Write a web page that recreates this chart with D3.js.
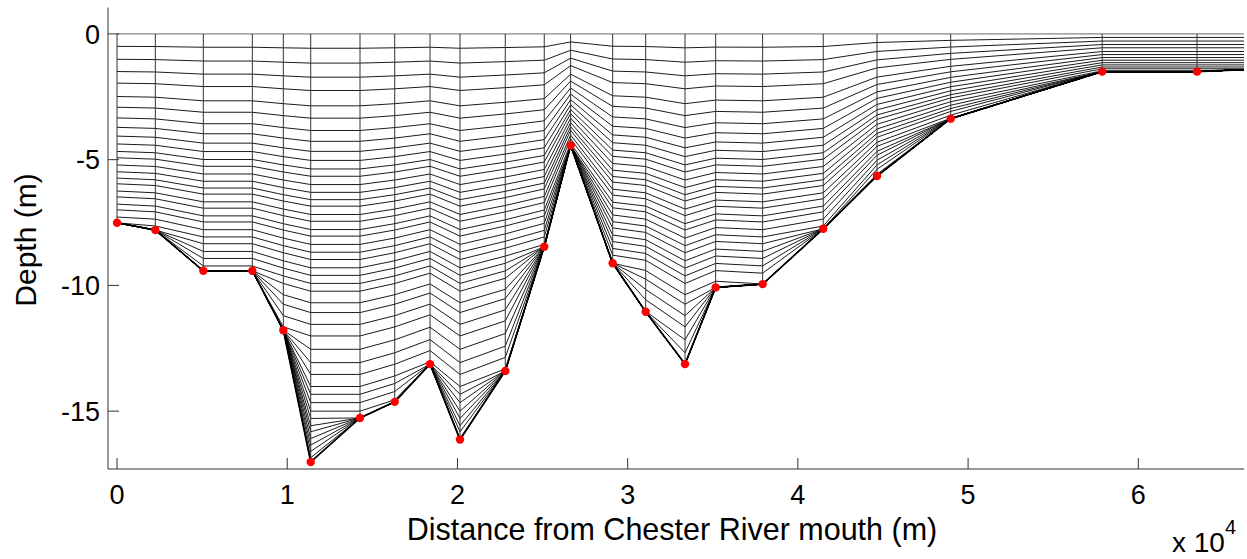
<!DOCTYPE html>
<html>
<head>
<meta charset="utf-8">
<script src="https://cdn.jsdelivr.net/npm/d3@7"></script>
<style>
  body { margin: 0; background: #fff; }
  svg { display: block; font-family: "Liberation Sans", Arial, sans-serif; }
</style>
</head>
<body>
<div id="main"></div>
<script>
// station positions along the channel (m) and bottom depth (m)
const stationX = [0, 2250, 5070, 7950, 9770, 11380, 14275, 16315, 18390, 20150, 22810, 25100,
                  26650, 29120, 31060, 33370, 35170, 37930, 41490, 44650, 48980, 57880, 63450, 66210];
const stationDepth = [7.51, 7.80, 9.42, 9.42, 11.78, 17.02, 15.27, 14.63, 13.13, 16.13, 13.40, 8.46,
                      4.44, 9.12, 11.05, 13.13, 10.08, 9.95, 7.75, 5.65, 3.37, 1.50, 1.50, 1.42];
// stretching of the level set at each station
const levelScale = [0.87, 0.88, 0.93, 0.93, 0.97, 1.0, 1.0, 0.97, 0.93, 1.0, 0.95, 0.9,
                    0.56, 0.86, 0.88, 0.97, 0.92, 0.93, 0.88, 0.6, 0.45, 0.245, 0.245, 0.245];
// measured stations (red dots); the last grid node sits on the axis edge
const measured = 23;
const levelDepth = [0, 0.57, 1.16, 1.72, 2.25, 2.86, 3.35, 3.84, 4.27, 4.67, 5.03, 5.37, 5.66, 5.99,
                    6.30, 6.59, 6.85, 7.18, 7.45, 7.78, 8.04, 8.37, 8.68, 8.97, 9.30, 9.60, 9.92,
                    10.23, 10.69, 11.08, 11.55, 12.01, 12.54, 13.07, 13.54, 14.02, 14.33, 14.66,
                    15.0, 15.29, 15.58, 15.82, 16.09, 16.35, 16.6, 16.85, 17.1];

const xTicks = [0, 10000, 20000, 30000, 40000, 50000, 60000];
const yTicks = [0, -5, -10, -15];

const ctx = {
    width: 1247,
    height: 559,
    left: 108,
    right: 1244,
    top: 7.5,
    bottom: 469,
};

let svg = d3.select("#main").append("svg")
    .attr("width", ctx.width)
    .attr("height", ctx.height);

let x = d3.scaleLinear().domain([-530, 66210]).range([ctx.left, ctx.right]);
let y = d3.scaleLinear().domain([-17.3, 1.05]).range([ctx.bottom, ctx.top]);

svg.append("defs").append("clipPath").attr("id", "plotclip")
    .append("rect")
    .attr("x", ctx.left).attr("y", ctx.top)
    .attr("width", ctx.right - ctx.left).attr("height", ctx.bottom - ctx.top);

// grid node depth for level k at station i
function nodeZ(k, i) {
    return -Math.min(levelDepth[k] * levelScale[i], stationDepth[i]);
}

let grid = svg.append("g").attr("clip-path", "url(#plotclip)");

let line = d3.line()
    .x(d => x(d[0]))
    .y(d => y(d[1]));

// horizontal grid lines, one per level
let levels = levelDepth.map((_, k) => stationX.map((sx, i) => [sx, nodeZ(k, i)]));
grid.selectAll("path.level")
    .data(levels)
    .enter().append("path")
    .attr("class", "level")
    .attr("d", line)
    .attr("fill", "none")
    .attr("stroke", (d, k) => k == 0 ? "#555" : "#000")
    .attr("stroke-width", 0.9);

// vertical lines at the measured stations
let stations = stationX.slice(0, measured);
grid.selectAll("line.vert")
    .data(stations)
    .enter().append("line")
    .attr("class", "vert")
    .attr("x1", d => x(d)).attr("x2", d => x(d))
    .attr("y1", y(0))
    .attr("y2", (d, i) => y(-stationDepth[i]))
    .attr("stroke", "#333")
    .attr("stroke-width", 1);

// bottom
grid.append("path")
    .attr("d", line(stationX.map((sx, i) => [sx, -stationDepth[i]])))
    .attr("fill", "none")
    .attr("stroke", "#000")
    .attr("stroke-width", 1.7);

// axes (MATLAB style: ticks inside)
let axis = svg.append("g");
axis.append("line")
    .attr("x1", ctx.left).attr("x2", ctx.left)
    .attr("y1", ctx.top).attr("y2", ctx.bottom)
    .attr("stroke", "#333");
axis.append("line")
    .attr("x1", ctx.left).attr("x2", ctx.right)
    .attr("y1", ctx.bottom).attr("y2", ctx.bottom)
    .attr("stroke", "#333");

axis.selectAll("line.xt")
    .data(xTicks)
    .enter().append("line")
    .attr("x1", d => x(d)).attr("x2", d => x(d))
    .attr("y1", ctx.bottom).attr("y2", ctx.bottom - 11)
    .attr("stroke", "#333");
axis.selectAll("text.xl")
    .data(xTicks)
    .enter().append("text")
    .attr("x", d => x(d))
    .attr("y", 504)
    .attr("text-anchor", "middle")
    .attr("font-size", 27)
    .text(d => d / 10000);

axis.selectAll("line.yt")
    .data(yTicks)
    .enter().append("line")
    .attr("x1", ctx.left).attr("x2", ctx.left + 11)
    .attr("y1", d => y(d)).attr("y2", d => y(d))
    .attr("stroke", "#333");
axis.selectAll("text.yl")
    .data(yTicks)
    .enter().append("text")
    .attr("x", 100)
    .attr("y", d => y(d) + 9.7)
    .attr("text-anchor", "end")
    .attr("font-size", 27)
    .text(d => d);

// red dots at measured stations
svg.append("g").selectAll("circle")
    .data(stations)
    .enter().append("circle")
    .attr("cx", d => x(d))
    .attr("cy", (d, i) => y(-stationDepth[i]))
    .attr("r", 4.2)
    .attr("fill", "#ff0000");

// labels
svg.append("text")
    .attr("x", 672)
    .attr("y", 540)
    .attr("text-anchor", "middle")
    .attr("font-size", 30.5)
    .text("Distance from Chester River mouth (m)");

svg.append("text")
    .attr("transform", "translate(36,240) rotate(-90)")
    .attr("text-anchor", "middle")
    .attr("font-size", 30)
    .text("Depth (m)");

let exp = svg.append("text")
    .attr("x", 1172)
    .attr("y", 552)
    .attr("font-size", 28);
exp.append("tspan").text("x 10");
exp.append("tspan").attr("dy", -18).attr("font-size", 20).text("4");
</script>
</body>
</html>
